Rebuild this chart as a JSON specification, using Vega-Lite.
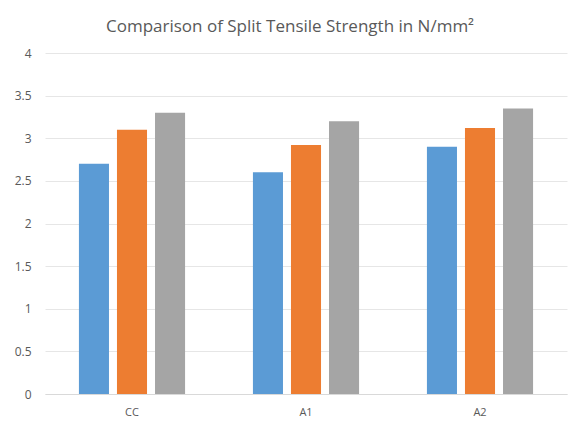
{
  "$schema": "https://vega.github.io/schema/vega-lite/v6.json",
  "width": 522,
  "height": 341,
  "autosize": {"type": "none"},
  "padding": {"left": 45, "top": 53, "right": 4, "bottom": 29},
  "background": "white",
  "title": {
    "text": "Comparison of Split Tensile Strength in N/mm²",
    "font": "Open Sans",
    "fontSize": 17,
    "fontWeight": "normal",
    "color": "#595959",
    "anchor": "middle",
    "dx": -16,
    "offset": 11
  },
  "data": {
    "values": [
      {"mix": "CC", "series": "Series 1", "value": 2.7},
      {"mix": "CC", "series": "Series 2", "value": 3.1},
      {"mix": "CC", "series": "Series 3", "value": 3.3},
      {"mix": "A1", "series": "Series 1", "value": 2.6},
      {"mix": "A1", "series": "Series 2", "value": 2.92},
      {"mix": "A1", "series": "Series 3", "value": 3.2},
      {"mix": "A2", "series": "Series 1", "value": 2.9},
      {"mix": "A2", "series": "Series 2", "value": 3.12},
      {"mix": "A2", "series": "Series 3", "value": 3.35}
    ]
  },
  "mark": {"type": "bar"},
  "encoding": {
    "x": {
      "field": "mix",
      "type": "nominal",
      "sort": ["CC", "A1", "A2"],
      "scale": {"paddingInner": 0.39, "paddingOuter": 0.195},
      "axis": {
        "title": null,
        "labelAngle": 0,
        "labelFont": "Open Sans",
        "labelFontSize": 11,
        "labelColor": "#595959",
        "labelPadding": 12,
        "ticks": false,
        "domainColor": "#d9d9d9"
      }
    },
    "xOffset": {
      "field": "series",
      "type": "nominal",
      "scale": {"paddingInner": 0.21, "paddingOuter": 0}
    },
    "y": {
      "field": "value",
      "type": "quantitative",
      "scale": {"domain": [0, 4], "nice": false},
      "axis": {
        "title": null,
        "values": [0, 0.5, 1, 1.5, 2, 2.5, 3, 3.5, 4],
        "labelOverlap": false,
        "labelFont": "Open Sans",
        "labelFontSize": 12,
        "labelColor": "#595959",
        "labelPadding": 14,
        "ticks": false,
        "domain": false,
        "gridColor": "#e6e6e6",
        "labelExpr": "datum.value"
      }
    },
    "color": {
      "field": "series",
      "type": "nominal",
      "scale": {"range": ["#5B9BD5", "#ED7D31", "#A5A5A5"]},
      "legend": null
    }
  },
  "config": {"view": {"stroke": null}}
}
